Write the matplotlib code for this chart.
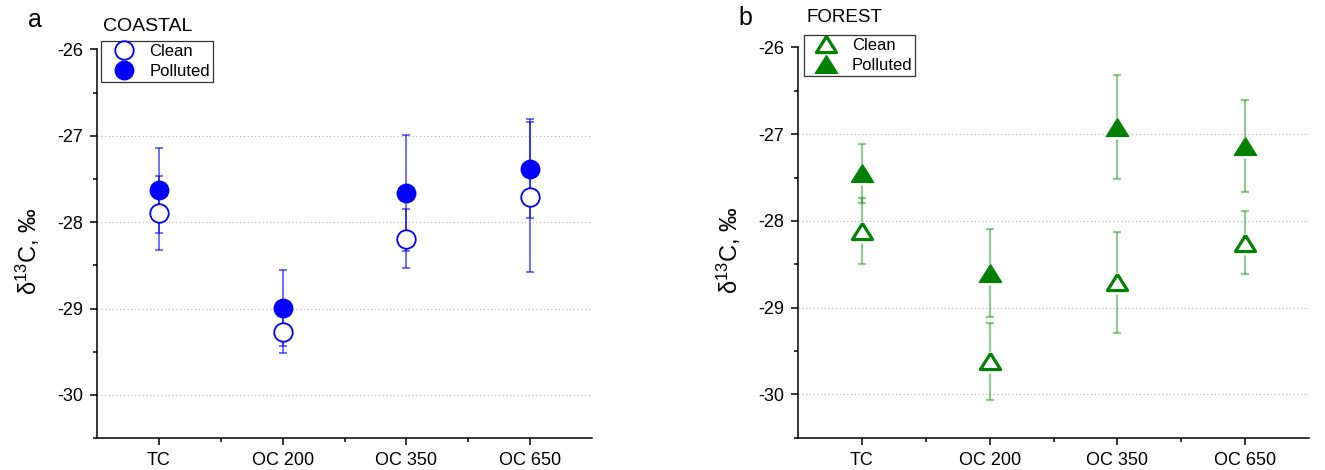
import matplotlib
matplotlib.use("Agg")
import matplotlib.pyplot as plt
from matplotlib.ticker import MultipleLocator, FixedLocator
from matplotlib.lines import Line2D

plt.rcParams['font.family'] = ['Liberation Sans', 'DejaVu Sans']
plt.rcParams['mathtext.fontset'] = 'custom'
plt.rcParams['mathtext.rm'] = 'Liberation Sans'
plt.rcParams['mathtext.it'] = 'Liberation Sans:italic'

categories = ["TC", "OC 200", "OC 350", "OC 650"]

coastal_clean = [-27.89, -29.27, -28.19, -27.71]
coastal_clean_err = [0.43, 0.24, 0.34, 0.87]
coastal_polluted = [-27.63, -28.99, -27.66, -27.38]
coastal_polluted_err = [0.49, 0.44, 0.67, 0.57]

forest_clean = [-28.12, -29.62, -28.71, -28.25]
forest_clean_err = [0.38, 0.44, 0.58, 0.36]
forest_polluted = [-27.45, -28.60, -26.92, -27.14]
forest_polluted_err = [0.34, 0.51, 0.60, 0.53]

BLUE = '#0000ff'
GREEN = '#008000'
TRI = [(0, 0.8), (-1, -0.8), (1, -0.8), (0, 0.8)]

fig = plt.figure(figsize=(13.25, 4.7), dpi=100)
axa = fig.add_axes([0.0732, 0.068, 0.3736, 0.8267])
axb = fig.add_axes([0.6023, 0.0687, 0.3857, 0.8303])

x = list(range(len(categories)))


def style_axis(ax):
    ax.set_xlim(-0.5, 3.5)
    ax.set_ylim(-30.5, -26)
    ax.spines['top'].set_visible(False)
    ax.spines['right'].set_visible(False)
    for s in ('left', 'bottom'):
        ax.spines[s].set_linewidth(1.1)
    ax.set_xticks(x)
    ax.set_xticklabels(categories)
    ax.xaxis.set_minor_locator(FixedLocator([0.5, 1.5, 2.5]))
    ax.yaxis.set_major_locator(MultipleLocator(1))
    ax.yaxis.set_minor_locator(MultipleLocator(0.5))
    ax.tick_params(axis='both', which='major', direction='out', length=5,
                   width=1.1, labelsize=13, pad=5)
    ax.tick_params(axis='both', which='minor', direction='out', length=3,
                   width=1.1)
    ax.set_yticklabels([f"{int(v)}" for v in ax.get_yticks()])
    ax.yaxis.grid(True, linestyle=(0, (1, 2)), color='#bbbbbb', linewidth=0.9)
    for line, loc in zip(ax.yaxis.get_gridlines(), ax.get_yticks()):
        if loc >= -26:
            line.set_visible(False)
    ax.set_axisbelow(True)
    ax.set_ylabel(r'$\mathregular{\delta^{13}}$C, ‰', fontsize=17)


style_axis(axa)
style_axis(axb)
axa.yaxis.set_label_coords(-0.111, 0.48)
axb.yaxis.set_label_coords(-0.108, 0.48)

# Panel a: coastal
axa.errorbar(x, coastal_polluted, yerr=coastal_polluted_err, fmt='none',
             ecolor=BLUE, alpha=0.65, elinewidth=1.2, capsize=2.6, capthick=1.2, zorder=2)
axa.errorbar(x, coastal_clean, yerr=coastal_clean_err, fmt='none',
             ecolor=BLUE, alpha=0.65, elinewidth=1.2, capsize=2.6, capthick=1.2, zorder=2)
axa.plot(x, coastal_polluted, linestyle='none', marker='o', markersize=13.3,
         markerfacecolor=BLUE, markeredgecolor=BLUE, zorder=3)
axa.plot(x, coastal_clean, linestyle='none', marker='o', markersize=13.3,
         markerfacecolor='white', markeredgecolor=BLUE, markeredgewidth=1.3, zorder=3)

# Panel b: forest
axb.errorbar(x, forest_polluted, yerr=forest_polluted_err, fmt='none',
             ecolor=GREEN, alpha=0.42, elinewidth=1.6, capsize=2.6, capthick=1.6, zorder=2)
axb.errorbar(x, forest_clean, yerr=forest_clean_err, fmt='none',
             ecolor=GREEN, alpha=0.42, elinewidth=1.6, capsize=2.6, capthick=1.6, zorder=2)
for vals in (forest_polluted, forest_clean):
    axb.plot(x, vals, linestyle='none', marker=TRI, markersize=16,
             markerfacecolor='white', markeredgecolor='white',
             markeredgewidth=4.5, zorder=2.5)
axb.plot(x, forest_polluted, linestyle='none', marker=TRI, markersize=16,
         markerfacecolor=GREEN, markeredgecolor=GREEN, markeredgewidth=1, zorder=3)
axb.plot(x, forest_clean, linestyle='none', marker=TRI, markersize=14.5,
         markerfacecolor='white', markeredgecolor=GREEN, markeredgewidth=2.3, zorder=3)

# Legends
h_a = [Line2D([], [], linestyle='none', marker='o', markersize=13.3,
              markerfacecolor='white', markeredgecolor=BLUE, markeredgewidth=1.3),
       Line2D([], [], linestyle='none', marker='o', markersize=13.3,
              markerfacecolor=BLUE, markeredgecolor=BLUE)]
h_b = [Line2D([], [], linestyle='none', marker=TRI, markersize=14.5,
              markerfacecolor='white', markeredgecolor=GREEN, markeredgewidth=2.3),
       Line2D([], [], linestyle='none', marker=TRI, markersize=16,
              markerfacecolor=GREEN, markeredgecolor=GREEN, markeredgewidth=1)]

for ax, h, anchor in ((axa, h_a, (0.009, 1.021)), (axb, h_b, (0.011, 1.032))):
    leg = ax.legend(h, ['Clean', 'Polluted'], loc='upper left', bbox_to_anchor=anchor,
                    borderaxespad=0, fontsize=12, frameon=True, fancybox=False,
                    edgecolor='#333333', framealpha=1, handlelength=2.3,
                    handletextpad=0.4, labelspacing=0.28, borderpad=0.18)
    leg.get_frame().set_linewidth(0.9)
    leg.set_zorder(5)

axa.text(0.012, 1.06, 'COASTAL', transform=axa.transAxes, fontsize=14,
         va='center', ha='left')
axb.text(0.017, 1.078, 'FOREST', transform=axb.transAxes, fontsize=13.5,
         va='center', ha='left')

fig.text(35 / 1325, 1 - 20 / 470, 'a', fontsize=18, ha='center', va='center')
fig.text(745 / 1325, 1 - 18 / 470, 'b', fontsize=18, ha='center', va='center')

fig.savefig('out.png', dpi=100)
